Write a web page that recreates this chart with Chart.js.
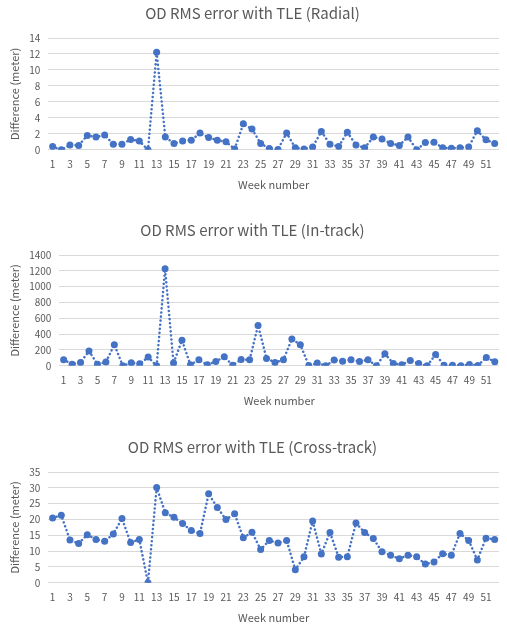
<!DOCTYPE html>
<html>
<head>
<meta charset="utf-8">
<script src="https://cdn.jsdelivr.net/npm/chart.js@4/dist/chart.umd.min.js"></script>
<style>
  body { margin: 0; background: #fff; width: 507px; height: 627px; overflow: hidden; }
  .box { position: absolute; left: 0; width: 507px; }
</style>
</head>
<body>
<div class="box" style="top:0px;height:195px"><canvas id="radial"></canvas></div>
<div class="box" style="top:217px;height:194px"><canvas id="intrack"></canvas></div>
<div class="box" style="top:434px;height:194px"><canvas id="cross"></canvas></div>
<script>
const weeks = []
for (let i = 1; i <= 52; i++) weeks.push(String(i))

const radial = [0.4, 0, 0.6, 0.55, 1.8, 1.6, 1.85, 0.7, 0.7, 1.3, 1.1, 0, 12.2, 1.6, 0.8, 1.1, 1.2, 2.1, 1.55, 1.2,
    1.0, 0.1, 3.25, 2.6, 0.8, 0.15, 0.05, 2.1, 0.25, 0.1, 0.35, 2.3, 0.7, 0.4, 2.2, 0.6, 0.25, 1.6, 1.35, 0.8,
    0.55, 1.6, 0, 0.9, 0.95, 0.25, 0.2, 0.25, 0.35, 2.4, 1.25, 0.8]

const inTrack = [76, 21, 42, 187, 21, 47, 267, 0, 38, 25, 110, 0, 1225, 34, 322, 13, 76, 13, 55, 114,
    8, 80, 76, 509, 93, 42, 76, 339, 267, 4, 34, 0, 72, 59, 76, 55, 76, 0, 153, 30,
    13, 68, 30, 0, 144, 8, 8, 0, 17, 4, 106, 51]

const crossTrack = [20.5, 21.3, 13.5, 12.4, 15.2, 13.7, 13.1, 15.4, 20.3, 12.7, 13.7, 0, 30.1, 22.1, 20.7, 18.7, 16.5, 15.6, 28.1, 23.8,
    20.0, 21.8, 14.2, 16.0, 10.5, 13.4, 12.6, 13.4, 4.1, 8.2, 19.5, 9.1, 15.9, 8.1, 8.2, 18.9, 15.9, 14.0, 9.8, 8.7,
    7.6, 8.7, 8.2, 5.9, 6.6, 9.2, 8.7, 15.6, 13.4, 7.2, 14.1, 13.7]

const FONT = "'Noto Sans CJK KR', 'Open Sans', sans-serif"
const GREY = '#595959'
const BLUE = '#4472C4'

function makeChart(id, title, values, max, step) {
    new Chart(document.getElementById(id), {
        type: 'line',
        data: {
            labels: weeks,
            datasets: [{
                data: values,
                borderColor: BLUE,
                backgroundColor: BLUE,
                borderWidth: 2.5,
                borderDash: [0.1, 4],
                borderCapStyle: 'round',
                pointRadius: 3.5,
                pointBorderWidth: 0,
                tension: 0,
            }],
        },
        options: {
            responsive: true,
            maintainAspectRatio: false,
            animation: false,
            layout: { padding: { left: 6, right: 8, top: 2, bottom: 0 } },
            plugins: {
                legend: { display: false },
                tooltip: { enabled: false },
                title: {
                    display: true,
                    text: title,
                    color: GREY,
                    font: { family: FONT, size: 15, weight: 'normal' },
                    padding: { top: 2, bottom: 16 },
                },
            },
            scales: {
                x: {
                    offset: true,
                    grid: { display: false },
                    border: { display: false },
                    ticks: {
                        color: GREY,
                        padding: 0,
                        font: { family: FONT, size: 10 },
                        autoSkip: false,
                        maxRotation: 0,
                        callback: function (v, i) { return i % 2 === 0 ? this.getLabelForValue(v) : '' },
                    },
                    title: {
                        display: true,
                        text: 'Week number',
                        color: GREY,
                        font: { family: FONT, size: 11 },
                        padding: { top: 8 },
                    },
                },
                y: {
                    min: 0,
                    max: max,
                    grid: { color: '#d9d9d9', drawTicks: false },
                    border: { display: false },
                    ticks: {
                        stepSize: step,
                        color: GREY,
                        padding: 8,
                        font: { family: FONT, size: 10 },
                        callback: (v) => String(v),
                    },
                    title: {
                        display: true,
                        text: 'Difference (meter)',
                        color: GREY,
                        font: { family: FONT, size: 11 },
                        padding: { top: 2, bottom: 0 },
                    },
                },
            },
        },
    })
}

makeChart('radial', 'OD RMS error with TLE (Radial)', radial, 14, 2)
makeChart('intrack', 'OD RMS error with TLE (In-track)', inTrack, 1400, 200)
makeChart('cross', 'OD RMS error with TLE (Cross-track)', crossTrack, 35, 5)
</script>
</body>
</html>
